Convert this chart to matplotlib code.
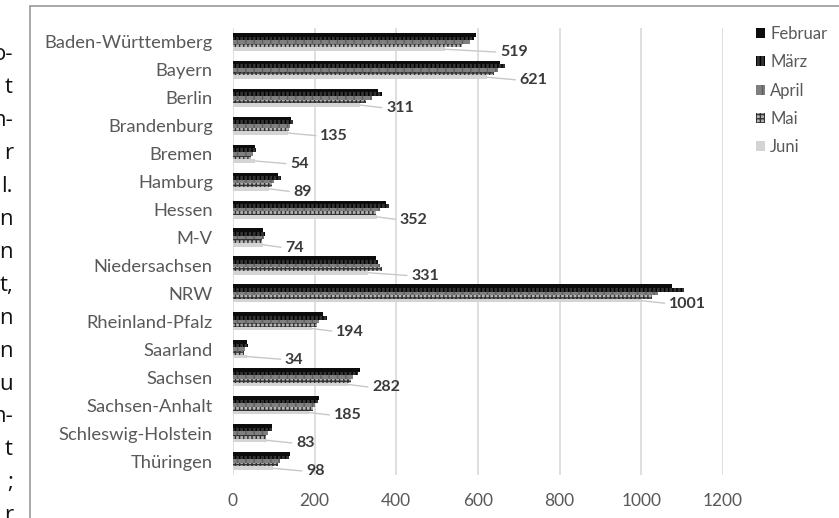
import numpy as np
import matplotlib
matplotlib.use("Agg")
import matplotlib.pyplot as plt
from matplotlib.patches import Rectangle

# Werte je Bundesland und Monat
laender = ["Baden-Württemberg", "Bayern", "Berlin", "Brandenburg", "Bremen",
           "Hamburg", "Hessen", "M-V", "Niedersachsen", "NRW",
           "Rheinland-Pfalz", "Saarland", "Sachsen", "Sachsen-Anhalt",
           "Schleswig-Holstein", "Thüringen"]
monate = ["Februar", "März", "April", "Mai", "Juni"]

februar = [595, 655, 355, 143, 55, 110, 375, 73, 350, 1075, 220, 35, 310, 210, 95, 140]
maerz = [590, 665, 365, 148, 56, 118, 382, 78, 355, 1105, 230, 36, 305, 208, 95, 138]
april = [580, 650, 340, 140, 48, 100, 360, 75, 360, 1040, 210, 30, 295, 200, 85, 115]
mai = [560, 640, 325, 138, 45, 95, 350, 72, 365, 1025, 205, 28, 290, 195, 80, 110]
juni = [519, 621, 311, 135, 54, 89, 352, 74, 331, 1001, 194, 34, 282, 185, 83, 98]

x_ticks = [0, 200, 400, 600, 800, 1000, 1200]

# Abstand der Beschriftung zum Balkenende (Pixel)
label_pad = [55, 33, 26, 32, 35, 24, 23, 22, 43, 27, 24, 38, 24, 25, 29, 33]

# Textreste des Fließtexts links neben der Grafik
rand_text = ["o-", "t", "n-", "r", "l.", "n", "n", "t,", "n", "n", "u", "n-", "t", ";", "r"]

W, H = 839, 518
fig = plt.figure(figsize=(W / 100, H / 100), dpi=100)
fig.patch.set_facecolor("white")

# Rahmen um das Diagramm
fig.patches.append(Rectangle((30 / W, -0.05), 1.0, 1 - 6 / H + 0.05,
                             transform=fig.transFigure, fill=False,
                             edgecolor="#9a9a9a", lw=1.2))

for i, s in enumerate(rand_text):
    fig.text(13 / W, 1 - (55 + 32.9 * i) / H, s, ha="right", va="center",
             fontsize=16, family="Open Sans", color="#111111")

ax = fig.add_axes([233 / W, 43 / H, 490 / W, 447 / H])

serien = [februar, maerz, april, mai, juni]
stile = [
    dict(color="#0c0c0c"),
    dict(color="#333333", hatch="||||", edgecolor="#000000"),
    dict(color="#7f7f7f", hatch="||", edgecolor="#5e5e5e"),
    dict(color="#b5b5b5", hatch="++++", edgecolor="#333333"),
    dict(color="#d4d4d4"),
]

y = np.arange(len(laender))
h = 0.13
for j, (werte, stil) in enumerate(zip(serien, stile)):
    ax.barh(y + (j - 2) * h, werte, height=h, label=monate[j], lw=0, **stil)

# Datenbeschriftungen der Juni-Werte mit Führungslinie
for i, v in enumerate(juni):
    ax.annotate(str(v), xy=(v, y[i] + 2 * h), xycoords="data",
                xytext=(label_pad[i], -3), textcoords="offset pixels",
                ha="left", va="center", fontsize=11.5, fontweight="bold",
                family="Lato", color="#3a3a3a",
                arrowprops=dict(arrowstyle="-", color="#c8c8c8", lw=1.0,
                                relpos=(0, 0.5), shrinkA=1, shrinkB=0))

ax.set_xlim(0, 1200)
ax.set_ylim(len(laender) - 0.5, -0.5)
ax.set_xticks(x_ticks)
ax.set_yticks(y)
ax.set_yticklabels(laender, family="Lato", fontsize=13.2, color="#595959")
ax.set_xticklabels([str(t) for t in x_ticks], family="Lato", fontsize=12.5,
                   color="#595959")
ax.tick_params(length=0)
ax.tick_params(axis="y", pad=14.5)
ax.tick_params(axis="x", pad=13)
for sp in ax.spines.values():
    sp.set_visible(False)
ax.grid(axis="x", color="#dcdcdc", lw=1.3)
ax.set_axisbelow(True)

leg = fig.legend(loc="upper left", bbox_to_anchor=(741 / W, 1 - 11 / H),
                 frameon=False, handlelength=0.55, handleheight=0.55,
                 handletextpad=0.3, labelspacing=0.74,
                 prop=dict(family="Lato", size=12))
for t in leg.get_texts():
    t.set_color("#595959")

fig.savefig("out.png", dpi=100)
